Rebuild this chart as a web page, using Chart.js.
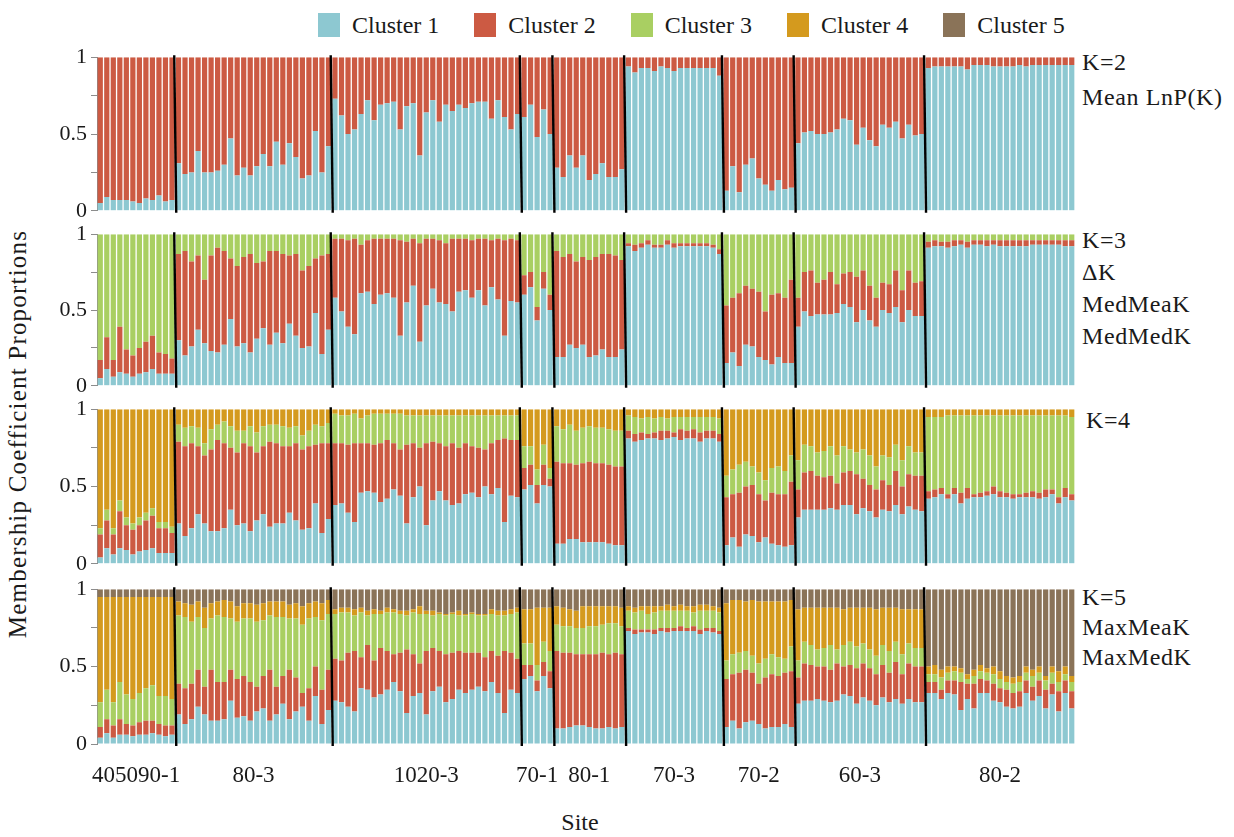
<!DOCTYPE html>
<html><head><meta charset="utf-8"><title>Membership coefficient proportions</title>
<script src="https://cdn.jsdelivr.net/npm/chart.js@4.4.1/dist/chart.umd.min.js"></script>
<style>
html,body{margin:0;padding:0;background:#fff}
body{position:relative;width:1234px;height:837px;overflow:hidden;font-family:"Liberation Serif","Times New Roman",serif;color:#1a1a1a}
canvas{position:absolute;left:0}
#legend{position:absolute;left:318px;top:12px;display:flex;align-items:center;font-size:24px;line-height:26px;white-space:nowrap}
#legend .it{display:flex;align-items:center;margin-right:35px}
#legend .sw{width:22px;height:24px;margin-right:12px}
.kl{position:absolute;left:1082px;font-size:24px;letter-spacing:.6px;white-space:nowrap}
#ytitle{position:absolute;left:-232px;top:420px;width:500px;height:28px;line-height:28px;text-align:center;font-size:25px;letter-spacing:1.2px;transform:rotate(-90deg)}
#xtitle{position:absolute;left:530px;top:808px;width:100px;line-height:28px;text-align:center;font-size:24px}
</style></head><body>
<div id="legend"></div>
<div class="kl" style="top:45px;line-height:35px">K=2<br>Mean LnP(K)</div>
<div class="kl" style="top:224px;line-height:32px">K=3<br>&Delta;K<br>MedMeaK<br>MedMedK</div>
<div class="kl" style="top:404px;left:1086px;line-height:32px">K=4</div>
<div class="kl" style="top:582px;line-height:30px">K=5<br>MaxMeaK<br>MaxMedK</div>
<div id="ytitle">Membership Coefficient Proportions</div>
<div id="xtitle">Site</div>
<script>
'use strict';

/* ═══════════ DATA ═══════════ */
var sites=['405090-1','80-3','1020-3','70-1','80-1','70-3','70-2','60-3','80-2'];
var siteSizes=[12,24,29,5,11,15,11,20,23];
var clusters=['Cluster 1','Cluster 2','Cluster 3','Cluster 4','Cluster 5'];
var colors=['#8dc8d1','#cc5a43','#a9cf62','#d49a1e','#8a7358'];
var yTickVals=[0,.25,.5,.75,1];
var yTickLabels=['0','','0.5','','1'];

/* K=2 */
var k2c1=[.05,.09,.07,.07,.07,.06,.05,.08,.07,.10,.06,.07,
 .31,.24,.25,.39,.25,.25,.26,.30,.47,.23,.28,.23,.29,.37,.29,.45,.30,.44,.35,.21,.23,.52,.25,.42,
 .73,.62,.50,.53,.63,.72,.59,.69,.70,.71,.53,.68,.70,.36,.64,.72,.58,.69,.65,.69,.67,.70,.71,.71,.60,.72,.61,.53,.63,
 .61,.69,.48,.66,.50,
 .28,.22,.36,.28,.36,.20,.24,.31,.22,.22,.27,
 .94,.90,.93,.93,.91,.94,.93,.91,.93,.93,.93,.93,.93,.93,.88,
 .13,.29,.12,.30,.34,.21,.17,.13,.20,.14,.15,
 .44,.51,.52,.50,.50,.51,.53,.60,.59,.43,.54,.46,.42,.56,.54,.58,.47,.56,.49,.50,
 .93,.94,.94,.94,.94,.94,.92,.95,.95,.95,.94,.94,.94,.94,.95,.94,.95,.95,.95,.95,.95,.95,.95];
var k2c2=[.95,.91,.93,.93,.93,.94,.95,.92,.93,.90,.94,.93,
 .69,.76,.75,.61,.75,.75,.74,.70,.53,.77,.72,.77,.71,.63,.71,.55,.70,.56,.65,.79,.77,.48,.75,.58,
 .27,.38,.50,.47,.37,.28,.41,.31,.30,.29,.47,.32,.30,.64,.36,.28,.42,.31,.35,.31,.33,.30,.29,.29,.40,.28,.39,.47,.37,
 .39,.31,.52,.34,.50,
 .72,.78,.64,.72,.64,.80,.76,.69,.78,.78,.73,
 .06,.10,.07,.07,.09,.06,.07,.09,.07,.07,.07,.07,.07,.07,.12,
 .87,.71,.88,.70,.66,.79,.83,.87,.80,.86,.85,
 .56,.49,.48,.50,.50,.49,.47,.40,.41,.57,.46,.54,.58,.44,.46,.42,.53,.44,.51,.50,
 .07,.06,.06,.06,.06,.06,.08,.05,.05,.05,.06,.06,.06,.06,.05,.06,.05,.05,.05,.05,.05,.05,.05];

/* K=3 */
var k3c1=[.05,.11,.06,.09,.08,.06,.08,.09,.11,.08,.08,.08,
 .30,.20,.26,.37,.28,.23,.22,.27,.44,.26,.28,.22,.31,.38,.27,.35,.28,.41,.33,.25,.26,.48,.21,.37,
 .58,.49,.39,.34,.61,.62,.54,.60,.61,.58,.33,.55,.66,.29,.53,.64,.55,.54,.49,.62,.63,.58,.63,.53,.65,.57,.33,.56,.55,
 .60,.65,.43,.64,.50,
 .19,.19,.27,.25,.27,.19,.20,.24,.19,.19,.24,
 .92,.89,.91,.93,.91,.91,.93,.91,.92,.92,.92,.92,.92,.91,.87,
 .15,.22,.13,.27,.26,.19,.17,.14,.19,.15,.15,
 .39,.49,.46,.47,.47,.47,.48,.54,.52,.42,.50,.43,.39,.50,.48,.52,.42,.50,.46,.46,
 .91,.92,.92,.91,.92,.93,.91,.93,.93,.92,.93,.92,.92,.92,.92,.92,.93,.93,.93,.93,.93,.92,.92];
var k3c2=[.12,.21,.11,.30,.16,.14,.17,.20,.22,.14,.13,.10,
 .57,.69,.56,.49,.42,.63,.69,.62,.40,.53,.57,.65,.50,.44,.62,.54,.59,.45,.54,.51,.53,.36,.65,.50,
 .39,.48,.57,.63,.32,.34,.43,.37,.36,.39,.63,.40,.31,.65,.44,.33,.41,.40,.48,.35,.34,.38,.34,.44,.31,.40,.63,.41,.41,
 .13,.10,.09,.11,.10,
 .70,.66,.60,.57,.58,.64,.65,.63,.68,.67,.59,
 .02,.04,.03,.03,.02,.02,.03,.03,.02,.02,.02,.02,.02,.02,.03,
 .38,.36,.48,.39,.38,.43,.32,.46,.42,.43,.55,
 .19,.26,.30,.21,.23,.28,.19,.20,.23,.30,.26,.23,.19,.18,.19,.24,.21,.26,.22,.23,
 .04,.04,.03,.04,.04,.03,.04,.03,.03,.04,.03,.04,.04,.04,.04,.04,.03,.03,.03,.03,.03,.04,.04];
var k3c3=[.83,.68,.83,.61,.76,.80,.75,.71,.67,.78,.79,.82,
 .13,.11,.18,.14,.30,.14,.09,.11,.16,.21,.15,.13,.19,.18,.11,.11,.13,.14,.13,.24,.21,.16,.14,.13,
 .03,.03,.04,.03,.07,.04,.03,.03,.03,.03,.04,.05,.03,.06,.03,.03,.04,.06,.03,.03,.03,.04,.03,.03,.04,.03,.04,.03,.04,
 .27,.25,.48,.25,.40,
 .11,.15,.13,.18,.15,.17,.15,.13,.13,.14,.17,
 .06,.07,.06,.04,.07,.07,.04,.06,.06,.06,.06,.06,.06,.07,.10,
 .47,.42,.39,.34,.36,.38,.51,.40,.39,.42,.30,
 .42,.25,.24,.32,.30,.25,.33,.26,.25,.28,.24,.34,.42,.32,.33,.24,.37,.24,.32,.31,
 .05,.04,.05,.05,.04,.04,.05,.04,.04,.04,.04,.04,.04,.04,.04,.04,.04,.04,.04,.04,.04,.04,.04];

/* K=4 */
var k4c1=[.04,.10,.06,.10,.09,.06,.08,.09,.10,.07,.07,.07,
 .26,.18,.23,.32,.26,.21,.21,.23,.35,.25,.26,.21,.28,.32,.24,.26,.26,.33,.28,.22,.23,.39,.20,.29,
 .38,.39,.33,.27,.46,.47,.46,.40,.42,.48,.44,.26,.43,.50,.25,.41,.47,.41,.38,.39,.45,.46,.43,.50,.45,.49,.27,.44,.43,
 .48,.51,.39,.51,.50,
 .13,.13,.16,.16,.14,.14,.14,.14,.13,.12,.12,
 .81,.79,.80,.81,.81,.80,.81,.82,.80,.81,.81,.79,.81,.81,.79,
 .12,.17,.11,.19,.18,.14,.17,.13,.12,.11,.12,
 .30,.35,.35,.35,.35,.36,.35,.38,.38,.32,.36,.34,.30,.35,.34,.38,.32,.37,.35,.34,
 .42,.43,.45,.42,.45,.39,.42,.43,.43,.44,.45,.43,.43,.42,.43,.43,.43,.42,.43,.45,.39,.43,.41];
var k4c2=[.15,.18,.13,.24,.16,.16,.17,.19,.21,.16,.16,.13,
 .53,.58,.55,.44,.44,.53,.59,.55,.40,.47,.52,.55,.44,.44,.55,.52,.50,.43,.50,.52,.53,.38,.58,.49,
 .40,.39,.44,.51,.32,.31,.31,.38,.38,.30,.30,.51,.35,.25,.53,.38,.31,.35,.40,.36,.33,.30,.32,.24,.33,.31,.54,.36,.37,
 .14,.13,.12,.13,.05,
 .53,.52,.49,.48,.51,.52,.51,.51,.51,.51,.51,
 .05,.05,.05,.03,.04,.06,.05,.03,.07,.05,.06,.06,.05,.05,.05,
 .31,.28,.35,.31,.33,.31,.24,.33,.33,.34,.41,
 .18,.24,.25,.22,.21,.21,.17,.21,.22,.26,.19,.17,.18,.19,.17,.22,.18,.21,.22,.23,
 .05,.05,.04,.03,.04,.07,.07,.02,.03,.03,.05,.04,.03,.03,.02,.03,.04,.04,.05,.03,.04,.06,.04];
var k4c3=[.04,.07,.04,.07,.05,.04,.05,.05,.05,.04,.04,.04,
 .11,.12,.11,.12,.08,.13,.10,.14,.14,.14,.08,.13,.13,.13,.11,.12,.13,.12,.11,.09,.10,.13,.11,.13,
 .19,.18,.19,.19,.16,.18,.20,.19,.17,.19,.23,.19,.18,.21,.18,.17,.18,.20,.18,.21,.18,.20,.21,.22,.18,.16,.15,.16,.16,
 .14,.12,.10,.13,.07,
 .23,.22,.25,.22,.23,.23,.23,.23,.23,.23,.23,
 .10,.11,.09,.11,.09,.09,.08,.10,.08,.09,.08,.10,.09,.09,.10,
 .14,.16,.18,.16,.12,.14,.13,.16,.18,.15,.17,
 .19,.18,.16,.15,.17,.19,.18,.17,.14,.14,.19,.19,.15,.16,.18,.17,.17,.18,.15,.15,
 .48,.47,.46,.51,.47,.50,.47,.51,.50,.49,.46,.49,.50,.51,.51,.50,.49,.50,.48,.48,.53,.47,.50];
var k4c4=[.77,.65,.77,.59,.70,.74,.70,.67,.64,.73,.73,.76,
 .10,.12,.11,.12,.22,.13,.10,.08,.11,.14,.14,.11,.15,.11,.10,.10,.11,.12,.11,.17,.14,.10,.11,.09,
 .03,.04,.04,.03,.06,.04,.03,.03,.03,.03,.03,.04,.04,.04,.04,.04,.04,.04,.04,.04,.04,.04,.04,.04,.04,.04,.04,.04,.04,
 .24,.24,.39,.23,.38,
 .11,.13,.10,.14,.12,.11,.12,.12,.13,.14,.14,
 .04,.05,.06,.05,.06,.05,.06,.05,.05,.05,.05,.05,.05,.05,.06,
 .43,.39,.36,.34,.37,.41,.46,.38,.37,.40,.30,
 .33,.23,.24,.28,.27,.24,.30,.24,.26,.28,.26,.30,.37,.30,.31,.23,.33,.24,.28,.28,
 .05,.05,.05,.04,.04,.04,.04,.04,.04,.04,.04,.04,.04,.04,.04,.04,.04,.04,.04,.04,.04,.04,.05];

/* K=5 */
var k5c1=[.04,.07,.04,.06,.06,.05,.06,.06,.07,.06,.05,.06,
 .19,.13,.16,.24,.19,.15,.15,.16,.28,.17,.18,.15,.21,.23,.15,.19,.26,.16,.21,.24,.15,.31,.13,.22,
 .28,.27,.24,.21,.36,.35,.30,.32,.35,.40,.34,.20,.31,.33,.19,.34,.37,.27,.29,.35,.33,.35,.37,.34,.40,.33,.20,.35,.33,
 .42,.44,.34,.44,.36,
 .10,.10,.11,.12,.12,.11,.10,.10,.11,.10,.11,
 .73,.71,.72,.72,.71,.73,.72,.73,.73,.73,.73,.71,.73,.72,.71,
 .11,.15,.10,.14,.15,.13,.10,.11,.11,.13,.11,
 .26,.28,.28,.29,.28,.27,.28,.32,.31,.26,.30,.28,.25,.30,.27,.29,.26,.29,.27,.27,
 .33,.33,.29,.33,.32,.22,.29,.23,.33,.33,.28,.27,.24,.23,.24,.33,.28,.31,.23,.32,.21,.33,.23];
var k5c2=[.07,.09,.08,.10,.07,.07,.08,.09,.08,.07,.07,.06,
 .20,.23,.23,.24,.18,.33,.25,.24,.20,.25,.26,.25,.16,.21,.33,.18,.18,.32,.22,.09,.21,.19,.22,.26,
 .27,.27,.35,.39,.20,.29,.24,.30,.25,.18,.25,.41,.27,.19,.41,.28,.23,.31,.30,.25,.26,.24,.22,.22,.20,.24,.40,.24,.22,
 .09,.07,.07,.09,.11,
 .50,.49,.48,.46,.46,.47,.48,.49,.47,.49,.47,
 .02,.03,.02,.02,.03,.02,.03,.02,.03,.02,.03,.03,.02,.03,.02,
 .31,.30,.36,.34,.31,.26,.33,.34,.33,.33,.36,
 .17,.24,.23,.21,.22,.21,.24,.18,.20,.23,.22,.21,.20,.21,.19,.24,.19,.23,.23,.23,
 .07,.07,.06,.08,.09,.18,.10,.16,.09,.08,.11,.09,.11,.10,.10,.08,.09,.10,.12,.07,.13,.08,.11];
var k5c3=[.16,.19,.15,.24,.19,.17,.19,.21,.23,.18,.19,.17,
 .44,.46,.40,.34,.38,.33,.43,.42,.33,.37,.37,.41,.42,.36,.35,.45,.38,.33,.38,.44,.45,.32,.45,.36,
 .29,.31,.26,.23,.29,.19,.30,.22,.25,.27,.25,.22,.27,.32,.24,.21,.24,.25,.25,.23,.24,.25,.24,.27,.24,.26,.23,.25,.30,
 .14,.14,.10,.13,.13,
 .17,.17,.17,.17,.17,.18,.18,.18,.20,.19,.18,
 .11,.11,.12,.10,.11,.11,.11,.11,.10,.11,.09,.12,.11,.11,.12,
 .12,.13,.13,.12,.11,.13,.12,.13,.12,.09,.16,
 .11,.14,.13,.11,.12,.16,.09,.14,.15,.14,.13,.12,.12,.13,.14,.13,.13,.13,.12,.12,
 .05,.05,.08,.05,.06,.06,.03,.05,.05,.05,.06,.06,.05,.06,.06,.05,.07,.05,.06,.07,.06,.04,.06];
var k5c4=[.68,.60,.68,.55,.63,.66,.62,.59,.57,.64,.64,.66,
 .09,.09,.11,.10,.13,.10,.09,.11,.11,.10,.10,.10,.11,.11,.09,.10,.10,.09,.10,.12,.10,.10,.11,.09,
 .03,.03,.03,.04,.03,.03,.03,.02,.03,.02,.02,.03,.02,.05,.02,.03,.01,.01,.01,.03,.01,.01,.01,.01,.03,.03,.03,.03,.03,
 .22,.22,.37,.22,.28,
 .12,.12,.11,.11,.14,.13,.13,.12,.11,.11,.12,
 .03,.03,.03,.05,.04,.03,.04,.03,.04,.03,.04,.04,.04,.03,.03,
 .37,.35,.34,.32,.36,.40,.37,.34,.36,.37,.30,
 .33,.22,.24,.27,.26,.24,.27,.23,.22,.25,.23,.27,.30,.24,.28,.22,.29,.22,.25,.25,
 .05,.06,.05,.04,.03,.03,.03,.04,.04,.03,.05,.05,.04,.04,.04,.04,.04,.04,.03,.04,.07,.05,.04];
var k5c5=[.05,.05,.05,.05,.05,.05,.05,.05,.05,.05,.05,.05,
 .08,.09,.10,.08,.12,.09,.08,.07,.08,.11,.09,.09,.10,.09,.08,.08,.08,.10,.09,.11,.09,.08,.09,.07,
 .13,.12,.12,.13,.12,.14,.13,.14,.12,.13,.14,.14,.13,.11,.14,.14,.15,.16,.15,.14,.16,.15,.16,.16,.13,.14,.14,.13,.12,
 .13,.13,.12,.12,.12,
 .11,.12,.13,.14,.11,.11,.11,.11,.11,.11,.12,
 .11,.12,.11,.11,.11,.11,.10,.11,.10,.11,.11,.10,.10,.11,.12,
 .09,.07,.07,.08,.07,.08,.08,.08,.08,.08,.07,
 .13,.12,.12,.12,.12,.12,.12,.13,.12,.12,.12,.12,.13,.12,.12,.12,.13,.13,.13,.13,
 .50,.49,.52,.50,.50,.51,.55,.52,.49,.51,.50,.53,.56,.57,.56,.50,.52,.50,.56,.50,.53,.50,.56];

/* ═══════════ LAYOUT ═══════════ */
var SERIF='"Liberation Serif","Times New Roman",serif';
var panels=[
  {top:54,bottom:214,series:[k2c1,k2c2]},
  {top:231,bottom:389,series:[k3c1,k3c2,k3c3]},
  {top:406,bottom:567,series:[k4c1,k4c2,k4c3,k4c4]},
  {top:586,bottom:744,series:[k5c1,k5c2,k5c3,k5c4,k5c5],sites:true}
];

/* individual ids + site centres (in bar units) */
var ids=[],centers=[],bounds=[],n=0;
sites.forEach(function(s,i){
  for(var j=0;j<siteSizes[i];j++)ids.push(s+'#'+(j+1));
  centers.push(n+(siteSizes[i]-1)/2);n+=siteSizes[i];bounds.push(n)});
bounds.pop();
panels.forEach(function(p,k){p.series.forEach(function(s,i){
  if(s.length!==ids.length)throw new Error('K='+(k+2)+' cluster '+(i+1)+' has '+s.length)})});

/* ═══════════ LEGEND ═══════════ */
(function(){var h='';
  clusters.forEach(function(c,i){h+='<div class="it"><span class="sw" style="background:'+colors[i]+'"></span>'+c+'</div>'});
  document.getElementById('legend').innerHTML=h})();

/* ═══════════ SITE SEPARATORS ═══════════ */
var sepPlugin={id:'sep',afterDatasetsDraw:function(ch){
  var x=ch.scales.x,a=ch.chartArea,c=ch.ctx;
  c.save();c.strokeStyle='#000';c.lineWidth=2.4;
  bounds.forEach(function(b){
    var px=(x.getPixelForValue(b-1)+x.getPixelForValue(b))/2;
    c.beginPath();c.moveTo(px-1,a.top-2);c.lineTo(px+1,a.bottom+2);c.stroke()});
  c.restore()}};

/* ═══════════ PANELS ═══════════ */
function mkPanel(p){
  var PADT=14,PADB=14,AXH=44;
  var h=(p.bottom-p.top)+PADT+(p.sites?AXH+8:PADB);
  var cv=document.createElement('canvas');cv.width=1234;cv.height=h;cv.style.top=(p.top-PADT)+'px';
  document.body.appendChild(cv);
  var scales={
    x:{type:'category',display:false,stacked:true,offset:true},
    y:{type:'linear',min:0,max:1,stacked:true,
      afterFit:function(s){s.width=97},
      afterBuildTicks:function(s){s.ticks=yTickVals.map(function(v){return{value:v}})},
      grid:{drawOnChartArea:false,drawTicks:true,tickLength:6,color:'#8c8c8c'},
      border:{display:true,color:'#8c8c8c',width:1},
      ticks:{padding:4,color:'#1a1a1a',font:{family:SERIF,size:22},callback:function(v,i){return yTickLabels[i]}}}};
  if(p.sites)scales.site={type:'linear',position:'bottom',offset:false,bounds:'data',min:-.5,max:ids.length-.5,
      afterBuildTicks:function(s){s.ticks=centers.map(function(v){return{value:v}})},
      afterFit:function(s){s.height=AXH},
      grid:{display:false,drawTicks:false,offset:false},border:{display:false},
      ticks:{autoSkip:false,maxRotation:0,minRotation:0,padding:18,color:'#1a1a1a',font:{family:SERIF,size:23},
        callback:function(v,i){return sites[i]}}};
  new Chart(cv,{type:'bar',
    data:{labels:ids,datasets:p.series.map(function(d,i){return{label:clusters[i],data:d,backgroundColor:colors[i],
      borderWidth:0,barPercentage:.8,categoryPercentage:1}})},
    options:{responsive:false,animation:false,events:[],
      layout:{padding:{top:PADT,bottom:p.sites?8:PADB,left:0,right:159}},
      plugins:{legend:{display:false},tooltip:{enabled:false}},scales:scales},
    plugins:[sepPlugin]});
}
panels.forEach(mkPanel);
</script>
</body></html>
